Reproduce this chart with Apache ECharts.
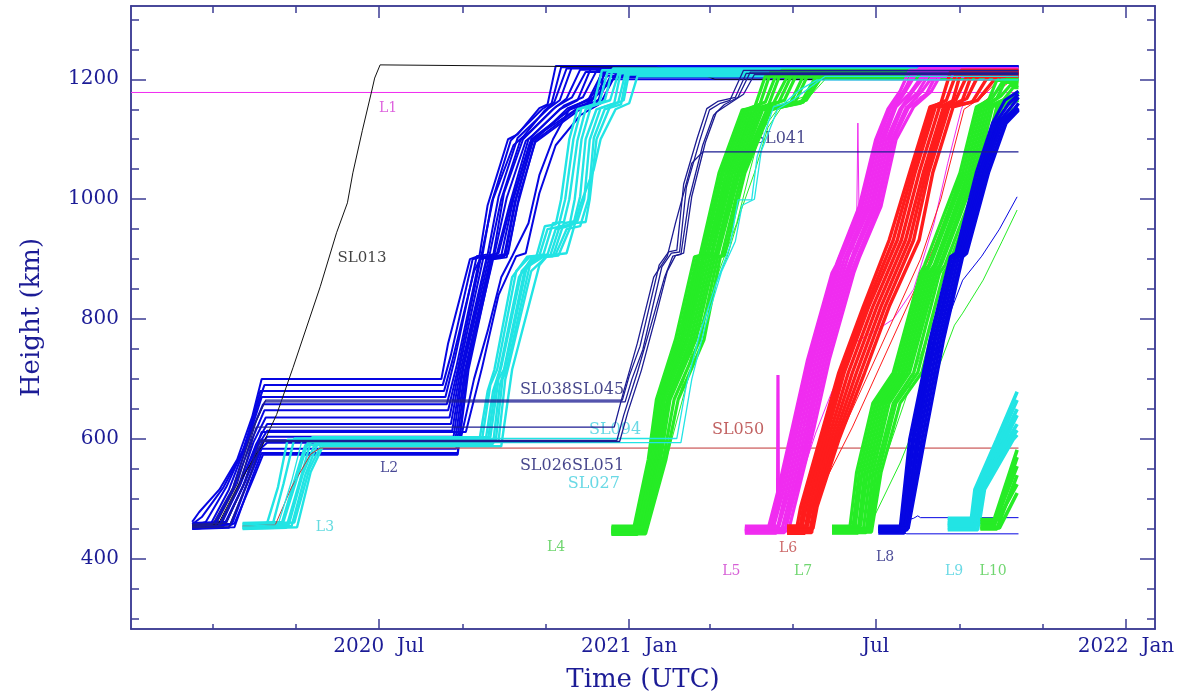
<!DOCTYPE html>
<html>
<head>
<meta charset="utf-8">
<title>OneWeb satellite heights</title>
<script src="https://cdn.jsdelivr.net/npm/echarts@6/dist/echarts.min.js"></script>
<style>
  html, body { margin: 0; padding: 0; background: #ffffff; }
  #chart { width: 1182px; height: 693px; }
</style>
</head>
<body>
<div id="chart"></div>
<script>
// Track times are given in days since 2020-01-01 00:00 UTC, heights in km.
const EPOCH = Date.UTC(2020, 0, 1);
const DAY = 86400000;

// ---- tick positions and tick labels --------------------------------------------
const xMajorTicks = ['2020-07-01', '2021-01-01', '2021-07-01', '2022-01-01'];
const xMajorLabels = ['2020  Jul', '2021  Jan', 'Jul', '2022  Jan'];
const xMinorTicks = ['2020-03-01', '2020-05-01', '2020-09-01', '2020-11-01',
                     '2021-03-01', '2021-05-01', '2021-09-01', '2021-11-01'];
const yMajorTicks = [400, 600, 800, 1000, 1200];
const yMinorTicks = [300, 350, 450, 500, 550, 650, 700, 750, 850, 900, 950,
                     1050, 1100, 1150, 1250, 1300];

// ---- satellite tracks: [day, height km] ------------------------------------
const launchL1 = [
  [[0, 1178], [652, 1178]]
];

const launchL2 = [
  [[45,462],[50,478],[65,516],[78,566],[89,637],[96,700],[228,700],[233,760],[249,900],[256,906],[262,990],[277,1100],[284,1108],[300,1152],[306,1158],[312,1222],[652,1222]],
  [[45,458],[52,470],[68,520],[82,580],[92,650],[98,690],[229,690],[235,740],[251,900],[258,904],[265,995],[279,1098],[302,1150],[309,1160],[316,1220],[652,1220]],
  [[45,455],[55,462],[70,520],[84,590],[95,680],[230,680],[236,730],[252,880],[257,902],[266,1000],[281,1090],[288,1104],[304,1148],[311,1162],[320,1218],[652,1218]],
  [[45,452],[58,456],[72,516],[86,600],[96,670],[231,670],[238,735],[254,905],[262,908],[270,1004],[284,1102],[307,1152],[315,1165],[324,1221],[652,1221]],
  [[45,450],[60,454],[74,512],[88,610],[97,658],[232,658],[239,720],[256,900],[263,903],[272,1000],[286,1098],[292,1110],[310,1150],[320,1168],[330,1216],[652,1216]],
  [[45,456],[62,458],[76,520],[89,600],[98,648],[233,648],[240,716],[257,902],[266,905],[274,1010],[288,1100],[312,1154],[324,1170],[334,1212],[652,1212]],
  [[45,451],[64,453],[78,515],[90,595],[99,636],[234,636],[241,716],[259,904],[267,908],[276,1002],[290,1097],[296,1108],[315,1150],[328,1165],[338,1219],[652,1219]],
  [[45,458],[66,460],[80,522],[92,592],[100,625],[235,625],[242,714],[261,900],[268,902],[278,990],[292,1100],[318,1156],[332,1170],[342,1214],[652,1214]],
  [[45,453],[68,455],[82,520],[93,588],[100,614],[236,614],[243,712],[262,906],[270,910],[280,998],[293,1094],[300,1106],[321,1152],[336,1166],[346,1210],[652,1210]],
  [[45,460],[70,462],[84,530],[94,585],[100,604],[237,604],[244,716],[263,902],[272,906],[281,1000],[294,1100],[323,1150],[338,1162],[350,1206],[652,1206]],
  [[45,450],[72,452],[85,525],[95,584],[100,594],[238,594],[245,712],[264,900],[274,904],[282,996],[295,1099],[325,1155],[340,1168],[354,1200],[652,1200]],
  [[45,455],[74,457],[86,530],[96,584],[239,584],[246,716],[265,902],[275,906],[283,1000],[296,1102],[327,1150],[342,1160],[352,1204],[652,1204]],
  [[45,452],[76,453],[88,530],[96,577],[240,577],[247,716],[266,900],[276,903],[284,990],[297,1098],[329,1152],[344,1166],[348,1222],[652,1222]],
  [[45,457],[76,459],[90,535],[97,574],[240,574],[248,716],[266,905],[277,909],[285,1004],[297,1095],[330,1150],[340,1170],[346,1216],[652,1216]],
  [[45,454],[66,456],[80,525],[94,598],[242,598],[252,700],[262,780],[272,870],[280,905],[292,960],[300,1040],[310,1100],[322,1150],[338,1170],[350,1215],[652,1215]],
  [[45,459],[70,461],[84,530],[96,612],[246,612],[258,720],[270,840],[283,905],[290,910],[300,1010],[312,1090],[330,1140],[345,1160],[356,1208],[652,1208]]
];

const launchL3 = [
  [[82,458],[100,460],[108,520],[115,599],[256,599],[262,680],[267,716],[280,870],[291,904],[298,906],[304,955],[312,958],[316,1000],[322,1100],[328,1150],[340,1158],[346,1215],[652,1215]],
  [[82,455],[104,457],[112,525],[120,601],[258,601],[264,690],[269,716],[283,880],[293,904],[300,906],[306,950],[314,954],[319,1000],[325,1100],[331,1152],[344,1160],[350,1212],[652,1212]],
  [[82,452],[110,454],[120,530],[128,590],[260,590],[266,680],[271,716],[285,870],[295,904],[303,908],[310,960],[318,962],[322,1000],[328,1098],[334,1150],[348,1164],[354,1218],[652,1218]],
  [[82,460],[112,462],[122,535],[130,595],[262,595],[268,690],[272,720],[287,880],[297,904],[306,908],[312,950],[322,955],[326,1000],[331,1100],[338,1155],[352,1165],[358,1210],[652,1210]],
  [[82,450],[114,452],[124,530],[133,603],[264,603],[270,700],[274,716],[289,880],[299,904],[308,906],[315,955],[325,958],[330,1005],[334,1100],[342,1150],[355,1160],[360,1214],[652,1214]],
  [[82,456],[116,458],[126,540],[135,592],[266,592],[271,690],[275,720],[291,890],[301,904],[310,905],[318,960],[328,964],[333,1000],[337,1099],[345,1152],[358,1162],[363,1208],[652,1208]],
  [[82,453],[118,455],[128,540],[138,598],[268,598],[273,700],[276,716],[293,890],[303,904],[312,908],[320,950],[330,955],[336,1000],[340,1102],[348,1150],[360,1158],[365,1216],[652,1216]],
  [[82,459],[120,461],[131,550],[141,596],[270,596],[275,700],[277,718],[294,880],[305,904],[314,906],[324,960],[334,962],[337,1000],[342,1100],[352,1155],[362,1165],[366,1212],[652,1212]],
  [[82,451],[122,453],[132,545],[141,588],[272,588],[280,716],[300,890],[306,906],[320,910],[330,990],[340,1050],[345,1100],[356,1150],[366,1160],[372,1205],[652,1205]]
];

const launchL4 = [
  [[353,448],[369,448],[380,566],[386,666],[400,766],[414,904],[418,906],[432,1044],[449,1149],[458,1152],[466,1205],[652,1205]],
  [[353,444],[370,444],[381,566],[387,666],[402,766],[416,904],[420,908],[434,1044],[451,1149],[462,1158],[470,1212],[652,1212]],
  [[353,452],[371,452],[382,566],[388,666],[404,766],[417,904],[421,906],[435,1044],[452,1149],[466,1162],[474,1208],[652,1208]],
  [[353,441],[372,441],[383,566],[389,666],[405,766],[418,904],[423,906],[437,1044],[454,1149],[468,1155],[478,1215],[652,1215]],
  [[353,455],[373,455],[384,566],[390,666],[406,766],[420,904],[424,908],[439,1044],[456,1149],[472,1160],[482,1204],[652,1204]],
  [[353,446],[374,446],[385,566],[391,666],[408,766],[421,904],[426,906],[440,1044],[458,1149],[476,1162],[486,1210],[652,1210]],
  [[353,450],[375,450],[386,566],[392,666],[409,766],[423,904],[427,908],[442,1044],[460,1149],[480,1165],[490,1213],[652,1213]],
  [[353,443],[376,443],[387,566],[394,666],[411,766],[425,904],[429,906],[444,1044],[462,1149],[484,1158],[494,1206],[652,1206]],
  [[353,453],[377,453],[388,566],[395,666],[413,766],[427,904],[430,906],[446,1044],[464,1149],[488,1162],[498,1211],[652,1211]],
  [[353,447],[378,447],[389,566],[396,666],[415,766],[429,904],[431,906],[447,1044],[467,1149],[492,1160],[504,1208],[652,1208]],
  [[353,449],[378,449],[391,566],[399,666],[418,766],[431,904],[434,906],[449,1044],[468,1149],[494,1162],[506,1212],[652,1212]],
  [[353,442],[378,442],[393,566],[402,666],[421,766],[433,904],[436,906],[451,1044],[470,1149],[496,1165],[508,1206],[652,1206]]
];
const stragglersL4 = [
  [[353,445],[378,445],[392,566],[402,666],[415,766],[428,850],[438,904],[448,980],[458,1044],[468,1120],[480,1160],[500,1175],[510,1200],[652,1200]],
  [[353,449],[377,449],[395,580],[408,690],[420,790],[432,880],[445,960],[455,1050],[462,1110],[475,1150],[495,1168],[505,1202],[652,1202]]
];

const launchL5 = [
  [[451,450],[468,450],[475,511],[486,621],[497,732],[515,877],[518,890],[535,988],[547,1099],[556,1150],[565,1180],[572,1215],[652,1215]],
  [[451,446],[470,446],[477,511],[488,621],[499,732],[517,877],[520,900],[537,988],[549,1099],[558,1152],[567,1178],[576,1210],[652,1210]],
  [[451,453],[472,453],[479,511],[490,621],[501,732],[519,877],[522,902],[539,988],[551,1099],[560,1150],[569,1180],[579,1218],[652,1218]],
  [[451,443],[474,443],[481,511],[492,621],[503,732],[521,877],[524,900],[541,988],[553,1099],[562,1154],[572,1176],[582,1208],[652,1208]],
  [[451,455],[476,455],[483,511],[494,621],[505,732],[523,877],[527,905],[543,988],[555,1099],[565,1150],[575,1182],[585,1212],[652,1212]],
  [[451,448],[478,448],[485,511],[496,621],[507,732],[525,877],[529,900],[545,988],[557,1099],[567,1155],[578,1178],[588,1216],[652,1216]],
  [[451,444],[480,444],[487,511],[498,621],[509,732],[527,877],[531,903],[547,988],[559,1099],[569,1150],[581,1180],[589,1205],[652,1205]],
  [[451,451],[481,451],[488,511],[500,621],[511,732],[529,877],[533,900],[549,988],[560,1099],[571,1152],[584,1174],[592,1210],[652,1210]],
  [[451,447],[483,447],[490,511],[502,621],[513,732],[531,877],[535,902],[551,988],[562,1099],[575,1154],[588,1180],[596,1212],[652,1212]],
  [[451,449],[469,449],[475,499],[475.3,707],[475.6,503],[477,515],[488,621],[499,732],[517,877],[536,988],[548,1099],[558,1152],[568,1180],[575,1214],[652,1214]]
];
const stragglersL5 = [
  [[451,447],[478,447],[490,520],[503,610],[514,674],[531,760],[548,782],[560,800],[575,850],[590,960],[600,1060],[610,1150],[620,1200],[652,1200]],
  [[451,449],[480,449],[490,560],[500,650],[512,760],[525,860],[533,940],[534,1127],[535,954],[545,1000],[555,1099],[566,1150],[586,1180],[594,1212],[652,1212]]
];

const launchL6 = [
  [[482,450],[489,450],[492,487],[506,599],[520,711],[538,821],[557,932],[572,1044],[587,1154],[595,1160],[602,1212],[652,1212]],
  [[482,446],[491,446],[494,487],[508,599],[522,711],[540,821],[560,932],[574,1044],[589,1154],[599,1165],[606,1208],[652,1208]],
  [[482,453],[493,453],[496,487],[510,599],[524,711],[542,821],[563,932],[576,1044],[591,1154],[603,1158],[610,1215],[652,1215]],
  [[482,443],[495,443],[498,487],[512,599],[527,711],[545,821],[566,932],[579,1044],[594,1154],[606,1166],[614,1205],[652,1205]],
  [[482,455],[497,455],[500,487],[514,599],[530,711],[548,821],[569,932],[582,1044],[597,1154],[610,1160],[618,1210],[652,1210]],
  [[482,448],[499,448],[502,487],[516,599],[533,711],[551,821],[572,932],[584,1044],[599,1154],[614,1168],[624,1213],[652,1213]],
  [[482,444],[500,444],[503,487],[518,599],[536,711],[554,821],[575,932],[586,1044],[601,1154],[618,1162],[630,1206],[652,1206]],
  [[482,451],[501,451],[504,487],[520,599],[539,711],[557,821],[579,932],[589,1044],[604,1154],[622,1165],[638,1210],[652,1210]]
];
const stragglersL6 = [
  [[482,447],[499,447],[505,520],[520,600],[540,700],[560,800],[580,900],[595,1000],[604,1080],[612,1150],[625,1170],[640,1205],[652,1205]],
  [[482,452],[500,452],[510,530],[530,620],[550,720],[572,830],[590,920],[605,1010],[615,1100],[625,1160],[645,1195],[652,1195]]
];

const launchL7 = [
  [[515,450],[528,450],[533,544],[545,660],[560,711],[580,877],[583,890],[609,1044],[621,1154],[630,1165],[636,1198],[652,1198]],
  [[515,446],[530,446],[535,544],[547,660],[562,711],[582,877],[586,890],[611,1044],[623,1154],[633,1170],[640,1195],[652,1195]],
  [[515,453],[532,453],[537,544],[549,660],[564,711],[584,877],[588,895],[613,1044],[625,1154],[636,1168],[643,1200],[652,1200]],
  [[515,443],[534,443],[539,544],[551,660],[566,711],[586,877],[590,890],[615,1044],[627,1154],[639,1172],[646,1190],[652,1190]],
  [[515,455],[536,455],[541,544],[553,660],[568,711],[588,877],[592,892],[617,1044],[629,1154],[641,1166],[648,1186],[652,1186]],
  [[515,448],[538,448],[543,544],[555,660],[570,711],[590,877],[594,890],[619,1044],[631,1154],[645,1170],[652,1180]],
  [[515,444],[540,444],[545,544],[557,660],[572,711],[592,877],[596,895],[621,1044],[633,1154],[648,1168],[652,1178]],
  [[515,451],[542,451],[547,544],[560,660],[575,711],[594,877],[598,890],[624,1044],[636,1154],[652,1170]],
  [[515,449],[543,449],[549,544],[562,660],[578,711],[597,877],[601,892],[626,1044],[638,1154],[652,1168]],
  [[515,445],[544,445],[551,544],[565,660],[581,711],[600,877],[604,890],[628,1044],[640,1154],[652,1165]]
];
const stragglersL7 = [
  [[515,447],[540,447],[550,540],[565,640],[580,740],[595,830],[608,920],[620,1000],[632,1080],[642,1140],[652,1160]],
  [[515,452],[542,452],[565,560],[590,700],[605,790],[611,810],[626,865],[640,930],[651,982]]
];

const launchL8 = [
  [[549,450],[565,450],[572,599],[587,766],[602,904],[606,910],[621,1044],[633,1127],[642,1165],[652,1180]],
  [[549,446],[566,446],[574,599],[588,766],[603,904],[608,912],[623,1044],[635,1127],[645,1160],[652,1175]],
  [[549,453],[567,453],[575,599],[590,766],[605,904],[609,908],[624,1044],[637,1127],[647,1155],[652,1170]],
  [[549,443],[568,443],[577,599],[591,766],[606,904],[610,910],[626,1044],[638,1127],[649,1150],[652,1160]],
  [[549,455],[569,455],[579,599],[593,766],[608,904],[611,906],[627,1044],[640,1127],[652,1152]],
  [[549,448],[570,448],[581,599],[595,766],[610,904],[612,908],[629,1044],[642,1127],[652,1150]],
  [[549,451],[571,451],[583,599],[597,766],[611,904],[614,910],[630,1044],[643,1127],[652,1148]]
];
const stragglersL8 = [
  [[549,445],[564,445],[570,442],[652,442]],
  [[549,452],[565,452],[568,462],[572,466],[575,468],[578,472],[580,469],[652,469]],
  [[549,449],[568,449],[578,599],[590,730],[600,800],[611,865],[625,905],[638,950],[651,1004]]
];

const launchL9 = [
  [[600,460],[617,460],[620,516],[636,599],[651,679]],
  [[600,456],[618,456],[622,516],[638,599],[651,665]],
  [[600,464],[619,464],[623,516],[640,599],[651,650]],
  [[600,452],[620,452],[624,516],[642,599],[651,640]],
  [[600,468],[621,468],[625,516],[644,599],[651,625]],
  [[600,449],[622,449],[626,516],[646,599],[651,615]],
  [[600,458],[623,458],[627,516],[648,599],[651,607]]
];

const launchL10 = [
  [[624,458],[633,458],[651,582]],
  [[624,454],[634,454],[651,570]],
  [[624,462],[635,462],[651,555]],
  [[624,450],[636,450],[651,540]],
  [[624,466],[637,466],[651,525]],
  [[624,452],[638,452],[651,510]]
];

// individually labelled satellites
const sl013 = [[45,456],[64,458],[78,520],[92,575],[96,587],[107,641],[119,719],[139,854],[151,944],[159,994],[163,1044],[170,1115],[177,1182],[179,1202],[183,1224],[386,1220],[403,1215],[418,1209],[429,1200],[652,1199]];
const sl038 = [[45,456],[60,458],[75,520],[90,620],[98,662],[363,662],[368,700],[376,749],[390,887],[397,910],[403,912],[408,1020],[418,1099],[425,1149],[433,1160],[440,1165],[450,1215],[652,1215]];
const sl045 = [[45,454],[62,456],[78,525],[92,630],[99,665],[361,665],[366,705],[374,755],[388,890],[395,912],[401,915],[406,1025],[416,1102],[423,1151],[431,1163],[444,1170],[452,1210],[652,1210]];
const sl026 = [[45,458],[70,460],[84,530],[95,598],[357,598],[362,640],[372,711],[382,790],[392,870],[398,905],[404,908],[410,1000],[420,1090],[428,1140],[436,1158],[446,1170],[455,1212],[652,1212]];
const sl051 = [[45,452],[72,454],[86,528],[96,596],[359,596],[365,645],[375,715],[385,800],[394,880],[400,906],[406,910],[412,1005],[422,1095],[430,1145],[440,1160],[450,1175],[458,1208],[652,1208]];
const sl041 = [[45,455],[66,457],[80,525],[92,620],[355,620],[362,680],[372,760],[384,870],[394,905],[400,960],[412,1060],[420,1079],[652,1079]];
const sl094 = [[82,455],[108,457],[118,530],[126,601],[401,601],[408,690],[418,777],[430,860],[440,921],[446,999],[456,999],[460,1071],[472,1154],[480,1160],[491,1182],[504,1199],[652,1199]];
const sl027 = [[82,452],[110,454],[121,530],[130,594],[404,594],[412,700],[422,790],[434,880],[444,930],[449,990],[458,1000],[463,1080],[475,1150],[486,1165],[498,1185],[510,1205],[652,1205]];
const sl050 = [[82,455],[106,457],[118,520],[132,575],[139,585],[652,585]];

// annotations: text, day, height km
const labelTexts   = ['L1', 'SL013', 'L2', 'L3', 'SL038SL045', 'SL094', 'SL050', 'SL026SL051', 'SL027', 'SL041',
                      'L4', 'L5', 'L6', 'L7', 'L8', 'L9', 'L10'];
const labelDays    = [188.8, 169.7, 189.6, 142.5, 324, 355.6, 446, 324, 340, 476.9,
                      312.3, 441, 482.7, 493.8, 554, 604.7, 633.4];
const labelHeights = [1152, 902, 552, 452, 682, 616, 616, 555, 526, 1100,
                      420, 380, 418, 380, 402, 380, 380];

// ---- styling ------------------------------------------------------------------
const FONT = '"DejaVu Serif", "Liberation Serif", serif';
const FRAME = '#3d3d94';
const TEXT = '#1c1c96';
const COL = {
  magenta: '#f02cf0', blue: '#0606e2', cyan: '#22e4e4', green: '#26ec26',
  red: '#ff1c1c', navy: '#1c1c92', black: '#111111', brick: '#c03434'
};
const labelColors = {
  'L1': '#d53ad5', 'SL013': '#111111', 'L2': '#1a1a7a', 'L3': '#3fd2d8',
  'SL038SL045': '#16166e', 'SL094': '#45d0de', 'SL050': '#b23a3a', 'SL026SL051': '#16166e',
  'SL027': '#45d0de', 'SL041': '#16166e', 'L4': '#4ccc4c', 'L5': '#cc38cc', 'L6': '#c04444',
  'L7': '#4ccc4c', 'L8': '#1a1a7a', 'L9': '#45d0de', 'L10': '#4ccc4c'
};
const labelSizes = { 'SL013': 15 };

const X_MIN = EPOCH;
const X_MAX = Date.UTC(2022, 0, 22, 7);
const Y_MIN = 283.3;
const Y_MAX = 1322.2;

function toTime(d) { return EPOCH + d * DAY; }

const series = [];
function addTracks(tracks, color, width) {
  tracks.forEach(function (tr) {
    series.push({
      type: 'line',
      xAxisIndex: 0, yAxisIndex: 0,
      data: tr.map(function (p) { return [toTime(p[0]), p[1]]; }),
      showSymbol: false, symbol: 'none',
      silent: true, animation: false,
      lineStyle: { color: color, width: width },
      emphasis: { disabled: true }
    });
  });
}

addTracks(launchL1, COL.magenta, 1);
addTracks(launchL2, COL.blue, 2);
addTracks([sl013], COL.black, 1);
addTracks(launchL3, COL.cyan, 2.4);
addTracks([sl050], COL.brick, 1);
addTracks(launchL4, COL.green, 3.2);
addTracks(stragglersL4, COL.green, 1);
addTracks(launchL5, COL.magenta, 3.2);
addTracks(stragglersL5, COL.magenta, 1);
addTracks(launchL6, COL.red, 3.4);
addTracks(stragglersL6, COL.red, 1);
addTracks(launchL7, COL.green, 3.2);
addTracks(stragglersL7, COL.green, 1);
addTracks(launchL8, COL.blue, 3.2);
addTracks(stragglersL8, COL.blue, 1);
addTracks(launchL9, COL.cyan, 3.6);
addTracks(launchL10, COL.green, 3.6);
addTracks([sl094, sl027], COL.cyan, 1.3);
addTracks([sl038, sl045, sl026, sl051, sl041], COL.navy, 1.3);

series.push({
  type: 'scatter',
  xAxisIndex: 0, yAxisIndex: 0,
  silent: true, animation: false,
  symbol: 'circle', symbolSize: 1,
  itemStyle: { color: 'transparent' },
  label: {
    show: true, position: 'inside',
    formatter: function (p) { return p.name; },
    fontFamily: FONT, fontSize: 16
  },
  data: labelTexts.map(function (t, i) {
    return {
      name: t,
      value: [toTime(labelDays[i]), labelHeights[i]],
      label: {
        color: labelColors[t],
        fontSize: labelSizes[t] || (t.charAt(0) === 'L' ? 14 : 16)
      }
    };
  })
});

function timeValues(list) { return list.map(function (s) { return Date.parse(s + 'T00:00:00Z'); }); }
const xMajor = timeValues(xMajorTicks);
const xMinor = timeValues(xMinorTicks);

// x axis is a numeric axis of UTC timestamps; its labels come from xMajorLabels
function xAxisDef(pos, values, len, withLabels) {
  const ax = {
    type: 'value', position: pos, min: X_MIN, max: X_MAX, scale: true,
    axisLine: { show: true, onZero: false, lineStyle: { color: FRAME, width: 1.5 } },
    axisTick: { show: true, inside: true, length: len, customValues: values,
                lineStyle: { color: FRAME, width: 1.5 } },
    axisLabel: { show: false },
    splitLine: { show: false }, axisPointer: { show: false }
  };
  if (withLabels) {
    ax.axisLabel = {
      show: true, customValues: values, margin: 8,
      color: TEXT, fontFamily: FONT, fontSize: 20,
      formatter: function (v) {
        const i = xMajor.indexOf(v);
        return i >= 0 ? xMajorLabels[i] : '';
      }
    };
    ax.name = 'Time (UTC)';
    ax.nameLocation = 'middle';
    ax.nameGap = 38;
    ax.nameTextStyle = { color: TEXT, fontFamily: FONT, fontSize: 26 };
  }
  return ax;
}

function yAxisDef(pos, values, len, withLabels) {
  const ax = {
    type: 'value', position: pos, min: Y_MIN, max: Y_MAX,
    axisLine: { show: true, onZero: false, lineStyle: { color: FRAME, width: 1.5 } },
    axisTick: { show: true, inside: true, length: len, customValues: values,
                lineStyle: { color: FRAME, width: 1.5 } },
    axisLabel: { show: false },
    splitLine: { show: false }, axisPointer: { show: false }
  };
  if (withLabels) {
    ax.axisLabel = {
      show: true, customValues: values, margin: 12,
      color: TEXT, fontFamily: FONT, fontSize: 20,
      formatter: function (v) { return String(v); }
    };
    ax.name = 'Height (km)';
    ax.nameLocation = 'middle';
    ax.nameGap = 86;
    ax.nameTextStyle = { color: TEXT, fontFamily: FONT, fontSize: 26 };
  }
  return ax;
}

const option = {
  animation: false,
  backgroundColor: '#ffffff',
  grid: { left: 131, right: 27, top: 6, bottom: 64, containLabel: false, outerBoundsMode: 'none' },
  xAxis: [
    xAxisDef('bottom', xMajor, 10, true),
    xAxisDef('bottom', xMinor, 5, false),
    xAxisDef('top', xMajor, 12, false),
    xAxisDef('top', xMinor, 7, false)
  ],
  yAxis: [
    yAxisDef('left', yMajorTicks, 15, true),
    yAxisDef('left', yMinorTicks, 8, false),
    yAxisDef('right', yMajorTicks, 15, false),
    yAxisDef('right', yMinorTicks, 8, false)
  ],
  series: series
};

const chart = echarts.init(document.getElementById('chart'), null, { renderer: 'canvas' });
chart.setOption(option);
</script>
</body>
</html>
